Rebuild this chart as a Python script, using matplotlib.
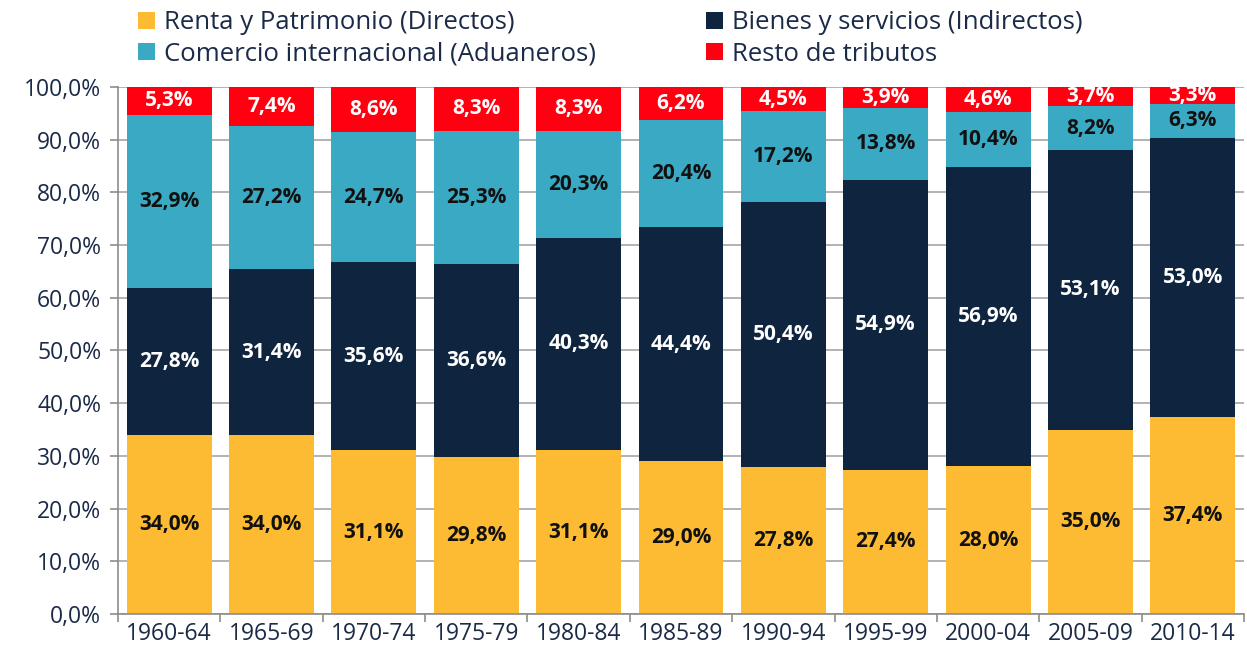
import numpy as np
import matplotlib.pyplot as plt
from matplotlib.ticker import FuncFormatter

periodos = ["1960-64", "1965-69", "1970-74", "1975-79", "1980-84", "1985-89",
            "1990-94", "1995-99", "2000-04", "2005-09", "2010-14"]
directos = [34.0, 34.0, 31.1, 29.8, 31.1, 29.0, 27.8, 27.4, 28.0, 35.0, 37.4]
indirectos = [27.8, 31.4, 35.6, 36.6, 40.3, 44.4, 50.4, 54.9, 56.9, 53.1, 53.0]
aduaneros = [32.9, 27.2, 24.7, 25.3, 20.3, 20.4, 17.2, 13.8, 10.4, 8.2, 6.3]
resto = [5.3, 7.4, 8.6, 8.3, 8.3, 6.2, 4.5, 3.9, 4.6, 3.7, 3.3]

series = [
    ("Renta y Patrimonio (Directos)", directos, "#FDBB33", "#111111"),
    ("Bienes y servicios (Indirectos)", indirectos, "#0F243E", "white"),
    ("Comercio internacional (Aduaneros)", aduaneros, "#3AA9C3", "#111111"),
    ("Resto de tributos", resto, "#FF0010", "white"),
]

plt.rcParams['font.family'] = ['Open Sans', 'DejaVu Sans']
txt = "#1B2A47"

fig = plt.figure(figsize=(12.47, 6.49), dpi=100)
ax = fig.add_axes([0.0946, 0.054, 0.903, 0.812])

x = np.arange(len(periodos))
bottom = np.zeros(len(periodos))
handles = []
for name, vals, color, tcol in series:
    vals = np.array(vals)
    bars = ax.bar(x, vals, 0.83, bottom=bottom, color=color, label=name, zorder=2)
    handles.append(bars)
    for xi, b, v in zip(x, bottom, vals):
        ax.text(xi, b + v / 2, f"{v:.1f}%".replace(".", ","), ha="center", va="center",
                color=tcol, fontsize=15, fontweight="bold", zorder=3)
    bottom += vals

ax.set_xlim(-0.5, len(periodos) - 0.5)
ax.set_ylim(0, 100)
ax.set_yticks(np.arange(0, 101, 10))
ax.yaxis.set_major_formatter(FuncFormatter(lambda v, p: f"{v:.1f}%".replace(".", ",")))
ax.set_xticks(x)
ax.set_xticklabels(periodos)
ax.set_xticks(np.arange(-0.5, len(periodos), 1), minor=True)
ax.tick_params(axis="x", which="major", length=0, pad=6, labelsize=16.5, labelcolor=txt)
ax.tick_params(axis="x", which="minor", length=6, color="#8C8C8C", width=1.2)
ax.tick_params(axis="y", length=6, color="#8C8C8C", width=1.2, labelsize=16.5, labelcolor=txt, pad=6)
ax.grid(axis="y", color="#A6A6A6", lw=1.2, zorder=0)
for s in ["top", "right"]:
    ax.spines[s].set_visible(False)
for s in ["left", "bottom"]:
    ax.spines[s].set_color("#8C8C8C")
    ax.spines[s].set_linewidth(1.2)

order = [handles[0], handles[2], handles[1], handles[3]]
labels = [h.get_label() for h in order]
fig.legend(order, labels, ncols=2, loc="upper left", bbox_to_anchor=(0.092, 1.02),
           frameon=False, fontsize=18.5, handlelength=0.65, handleheight=0.65,
           handletextpad=0.35, columnspacing=4.3, labelspacing=0.25, labelcolor=txt)

fig.savefig("out.png", dpi=100)
